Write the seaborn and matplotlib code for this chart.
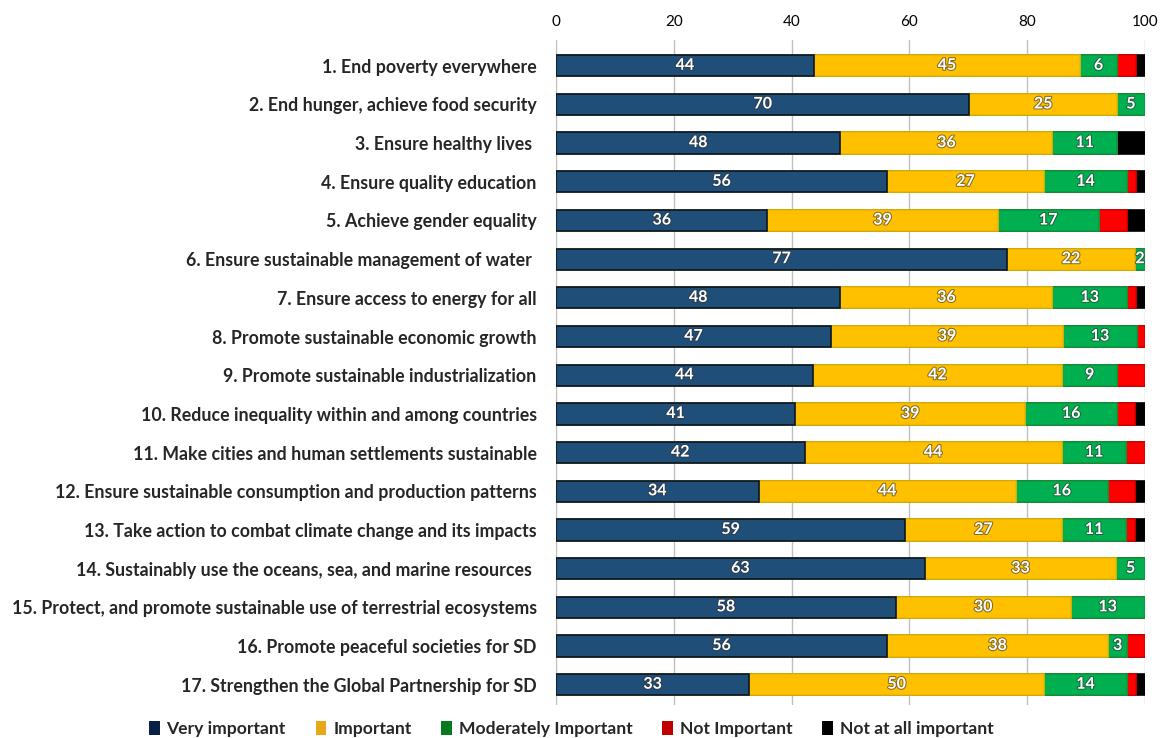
import numpy as np
import pandas as pd
import matplotlib
matplotlib.use("Agg")
import matplotlib.pyplot as plt
import matplotlib.patheffects as pe
from matplotlib.patches import Patch
import seaborn as sns

categories = [
    "1. End poverty everywhere",
    "2. End hunger, achieve food security",
    "3. Ensure healthy lives ",
    "4. Ensure quality education",
    "5. Achieve gender equality",
    "6. Ensure sustainable management of water ",
    "7. Ensure access to energy for all",
    "8. Promote sustainable economic growth",
    "9. Promote sustainable industrialization",
    "10. Reduce inequality within and among countries",
    "11. Make cities and human settlements sustainable",
    "12. Ensure sustainable consumption and production patterns",
    "13. Take action to combat climate change and its impacts",
    "14. Sustainably use the oceans, sea, and marine resources ",
    "15. Protect, and promote sustainable use of terrestrial ecosystems",
    "16. Promote peaceful societies for SD",
    "17. Strengthen the Global Partnership for SD",
]
very_important = [43.8, 70.2, 48.3, 56.2, 35.9, 76.6, 48.3, 46.7, 43.6, 40.6, 42.2, 34.4, 59.3, 62.6, 57.7, 56.2, 32.8]
important      = [45.2, 25.1, 36.0, 26.7, 39.1, 21.8, 36.0, 39.4, 42.4, 39.1, 43.7, 43.7, 26.6, 32.6, 29.7, 37.6, 50.1]
moderately     = [6.3, 4.7, 11.0, 14.1, 17.2, 1.6, 12.7, 12.6, 9.3, 15.6, 11.0, 15.6, 11.0, 4.8, 12.6, 3.2, 14.1]
not_important  = [3.2, 0.0, 0.0, 1.5, 4.8, 0.0, 1.5, 1.3, 4.7, 3.1, 3.1, 4.7, 1.5, 0.0, 0.0, 3.0, 1.5]
not_at_all     = [1.5, 0.0, 4.7, 1.5, 3.0, 0.0, 1.5, 0.0, 0.0, 1.6, 0.0, 1.6, 1.6, 0.0, 0.0, 0.0, 1.5]
series_names = ["Very important", "Important", "Moderately Important", "Not Important", "Not at all important"]
x_ticks = [0, 20, 40, 60, 80, 100]

colors = ["#1F4E79", "#FFC000", "#00B050", "#FF0000", "#000000"]
edges = ["#0A1628", "#F0B400", "#00A040", "#E00000", "#000000"]
legend_colors = ["#0A1F44", "#E6A817", "#0A7A1E", "#C00000", "#000000"]

sns.set_theme(style="white")
plt.rcParams["font.family"] = ["Lato", "DejaVu Sans"]

series = [very_important, important, moderately, not_important, not_at_all]
df = pd.DataFrame({name: vals for name, vals in zip(series_names, series)})
df["category"] = categories
cum = df[series_names].cumsum(axis=1)

fig = plt.figure(figsize=(11.61, 7.38), dpi=100)
ax = fig.add_axes([0.479, 0.045, 0.507, 0.901])

# draw cumulative totals from the outermost to innermost so they stack visually
for i in range(len(series_names) - 1, -1, -1):
    name = series_names[i]
    sns.barplot(x=cum[name], y=df["category"], orient="h", color=colors[i],
                saturation=1, width=0.55, edgecolor=edges[i], linewidth=1.2,
                ax=ax, zorder=2)

# value labels for first three series
for j in range(len(categories)):
    left = 0.0
    for i in range(3):
        v = series[i][j]
        if v > 0:
            ax.text(left + v / 2, j, "%.0f" % v, ha="center", va="center",
                    color="white", fontsize=11.5, fontweight="bold", zorder=5,
                    path_effects=[pe.withStroke(linewidth=1.5, foreground="#333333", alpha=0.6)])
        left += v

ax.set_xlim(0, 100)
ax.set_ylim(16.52, -0.67)
ax.set_xticks(x_ticks)
ax.xaxis.tick_top()
ax.tick_params(axis="x", length=0, labelsize=11, pad=8, colors="black")
ax.tick_params(axis="y", length=0, labelsize=12.8, pad=14)
for lbl in ax.get_yticklabels():
    lbl.set_fontweight("bold")
ax.set_xlabel("")
ax.set_ylabel("")
ax.grid(axis="x", color="#BFBFBF", linewidth=1, zorder=0)
ax.set_axisbelow(True)
for s in ax.spines.values():
    s.set_visible(False)

handles = [Patch(facecolor=legend_colors[i], edgecolor="none") for i in range(5)]
fig.legend(handles, series_names, loc="lower center", bbox_to_anchor=(0.492, -0.02),
           ncol=5, frameon=False, handlelength=0.6, handleheight=0.9,
           handletextpad=0.4, columnspacing=1.7,
           prop={"weight": "bold", "size": 12.6})

fig.savefig("out.png", dpi=100)
